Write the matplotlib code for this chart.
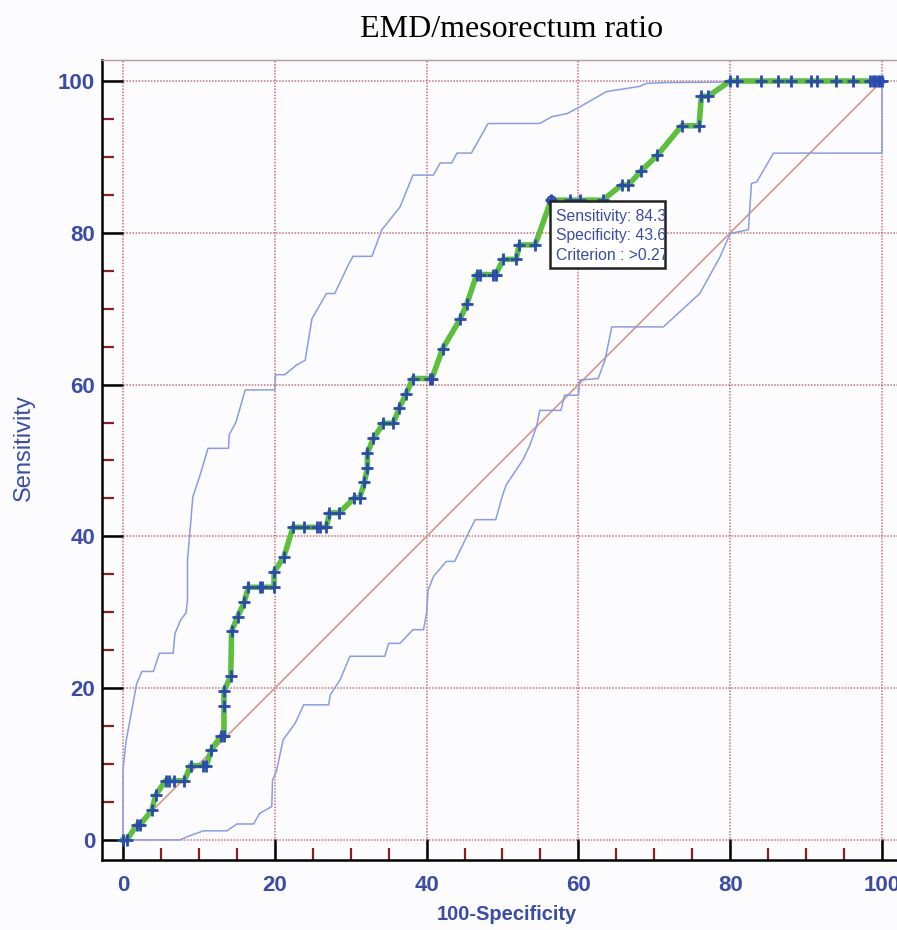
import matplotlib
matplotlib.use("Agg")
import matplotlib.pyplot as plt
from matplotlib.patches import Rectangle
from matplotlib.ticker import MultipleLocator

# ROC points (100-Specificity, Sensitivity)
roc_fpr = [0, 0.5, 1.8, 2.2, 3.8, 4.3, 5.6, 6.0, 6.7, 8.1, 8.9, 10.6, 11.0, 11.6, 12.9, 13.3,
           13.3, 13.3, 14.2, 14.3, 15.1, 16.0, 16.5, 18.0, 18.3, 19.9, 19.9, 21.2, 22.4, 23.8,
           25.6, 25.9, 26.8, 27.2, 28.5, 30.5, 31.2, 31.8, 32.2, 32.2, 33.0, 34.3, 35.6, 36.4,
           37.3, 38.2, 40.4, 40.7, 42.1, 44.4, 45.3, 46.6, 47.0, 48.8, 49.1, 50.1, 51.8, 52.2,
           54.3, 56.4, 58.9, 60.2, 63.2, 65.7, 66.6, 68.3, 70.4, 73.6, 75.9, 76.2, 77.1, 80.0,
           80.9, 84.0, 86.3, 88.0, 90.6, 91.5, 94.0, 96.2, 98.4, 98.8, 99.1, 99.5, 99.8, 100]
roc_tpr = [0, 0, 1.96, 1.96, 3.9, 5.9, 7.8, 7.8, 7.8, 7.8, 9.8, 9.8, 9.8, 11.8, 13.7, 13.7,
           17.6, 19.6, 21.6, 27.5, 29.4, 31.4, 33.3, 33.3, 33.3, 33.3, 35.3, 37.3, 41.2, 41.2,
           41.2, 41.2, 41.2, 43.1, 43.1, 45.1, 45.1, 47.1, 49.0, 51.0, 52.9, 54.9, 54.9, 56.9,
           58.8, 60.8, 60.8, 60.8, 64.7, 68.6, 70.6, 74.5, 74.5, 74.5, 74.5, 76.5, 76.5, 78.4,
           78.4, 84.3, 84.3, 84.3, 84.3, 86.3, 86.3, 88.2, 90.2, 94.1, 94.1, 98.0, 98.0, 100,
           100, 100, 100, 100, 100, 100, 100, 100, 100, 100, 100, 100, 100, 100]

# 95% confidence bounds
upper_x = [0, 0, 0.4, 1.4, 1.8, 2.5, 4.0, 4.8, 6.6, 6.85, 7.6, 8.3, 8.5, 8.5, 8.8, 9.2, 10.1,
           11.2, 13.9, 14.0, 14.9, 16.1, 20.0, 20.1, 21.3, 22.9, 24.0, 24.9, 26.8, 27.9, 29.7,
           30.3, 32.8, 34.1, 36.5, 38.2, 40.9, 41.8, 43.3, 44.0, 45.9, 48.1, 54.9, 56.5, 58.5,
           60.2, 63.7, 68.1, 69.0, 71.6, 100]
upper_y = [0, 9.2, 13.0, 18.4, 20.6, 22.2, 22.2, 24.6, 24.6, 27.2, 29.0, 29.9, 31.6, 36.9, 40.4,
           45.2, 47.9, 51.6, 51.6, 53.4, 55.1, 59.3, 59.3, 61.3, 61.3, 62.6, 63.2, 68.7, 72.0,
           72.0, 75.8, 76.9, 76.9, 80.4, 83.4, 87.6, 87.6, 89.2, 89.2, 90.5, 90.5, 94.4, 94.4,
           95.3, 95.7, 96.6, 98.6, 99.3, 99.7, 99.8, 100]
lower_x = [0, 7.5, 8.4, 10.6, 13.7, 15.0, 17.2, 18.0, 19.6, 19.7, 20.2, 21.1, 22.7, 23.8, 27.1,
           27.3, 28.6, 29.9, 34.5, 35.0, 36.5, 38.2, 39.6, 40.0, 40.2, 40.9, 42.6, 43.7, 45.3,
           46.4, 49.1, 50.1, 50.5, 52.7, 53.6, 54.5, 54.9, 57.7, 58.2, 60.0, 60.2, 62.6, 63.5,
           64.4, 71.2, 73.8, 76.0, 78.7, 80.0, 82.4, 82.8, 83.5, 85.7, 100, 100]
lower_y = [0, 0, 0.4, 1.2, 1.2, 2.1, 2.1, 3.5, 4.4, 7.9, 9.0, 13.2, 15.4, 17.8, 17.8, 19.1,
           21.1, 24.2, 24.2, 25.9, 25.9, 27.7, 27.7, 29.9, 32.9, 34.7, 36.7, 36.7, 40.0, 42.2,
           42.2, 45.7, 46.8, 50.1, 52.0, 54.5, 56.6, 56.6, 58.6, 58.6, 60.6, 60.8, 63.2, 67.6,
           67.6, 70.0, 72.0, 76.9, 79.9, 80.4, 86.5, 86.7, 90.5, 90.5, 100]

best_point = (56.4, 84.3)
info_lines = ["Sensitivity: 84.3", "Specificity: 43.6", "Criterion : >0.27"]

blue_txt = "#3a4ca6"
bg = "#fcfcff"

fig = plt.figure(figsize=(8.97, 9.30), dpi=100, facecolor=bg)
ax = fig.add_axes([0.1137, 0.0753, 0.8863, 0.8602], facecolor=bg)
ax.set_xlim(-2.77, 101.98)
ax.set_ylim(-2.64, 102.77)

ax.xaxis.set_major_locator(MultipleLocator(20))
ax.yaxis.set_major_locator(MultipleLocator(20))
ax.xaxis.set_minor_locator(MultipleLocator(5))
ax.yaxis.set_minor_locator(MultipleLocator(5))
ax.grid(which="major", color="#b85050", linestyle=(0, (1, 1)), linewidth=1.1, alpha=0.8)
ax.set_axisbelow(True)

ax.tick_params(which="major", direction="in", length=15, width=1.8, color="black",
               labelcolor=blue_txt, labelsize=16)
ax.tick_params(which="minor", direction="in", length=8.5, width=1.6, color="#8b2020")
ax.tick_params(axis="y", which="major", pad=5)
ax.tick_params(axis="x", which="major", pad=11)
for lab in ax.get_xticklabels() + ax.get_yticklabels():
    lab.set_fontfamily("Liberation Sans")
    lab.set_fontweight("bold")

for side in ["left", "bottom"]:
    ax.spines[side].set_color("black")
    ax.spines[side].set_linewidth(1.8)
ax.spines["right"].set_visible(False)
ax.spines["top"].set_color("#b89a90")
ax.spines["top"].set_linewidth(1.0)

# diagonal reference
ax.plot([0, 100], [0, 100], color="#d49e8e", linewidth=1.3, zorder=2)

# confidence bounds
ax.plot(upper_x, upper_y, color="#8a9ce6", linewidth=1.1, zorder=3)
ax.plot(lower_x, lower_y, color="#8a9ce6", linewidth=1.1, zorder=3)

# ROC curve
ax.plot(roc_fpr, roc_tpr, color="#5cc03a", linewidth=4, zorder=4)
ax.plot(roc_fpr, roc_tpr, linestyle="none", marker="+", markersize=8, markeredgewidth=2,
        color="#2a4ab2", zorder=5)
ax.plot(*best_point, marker="o", markersize=6, markerfacecolor="none",
        markeredgecolor="#2a4ab2", markeredgewidth=1.5, zorder=6)

# info box (text cut at the box edge, like the original tooltip)
box = Rectangle((56.3, 75.4), 15.1, 8.8, facecolor="white", edgecolor="#222222",
                linewidth=1.8, zorder=7)
ax.add_patch(box)
for i, line in enumerate(info_lines):
    t = ax.text(57.1, 82.2 - i * 2.6, line, fontsize=11.3, color=blue_txt,
                family="Liberation Sans", va="center", ha="left", zorder=8, clip_on=True)
    t.set_clip_path(box)

ax.set_xlabel("100-Specificity", fontsize=14.5, fontweight="bold", color=blue_txt,
              family="Liberation Sans")
ax.xaxis.set_label_coords(0.509, -0.056)
ax.set_ylabel("Sensitivity", fontsize=17, color=blue_txt, family="Liberation Sans")
ax.yaxis.set_label_coords(-0.085, 0.515)

fig.text(0.570, 0.968, "EMD/mesorectum ratio", fontsize=23, family="Liberation Serif",
         ha="center", va="center", color="black")

fig.savefig("out.png", dpi=100, facecolor=bg)
